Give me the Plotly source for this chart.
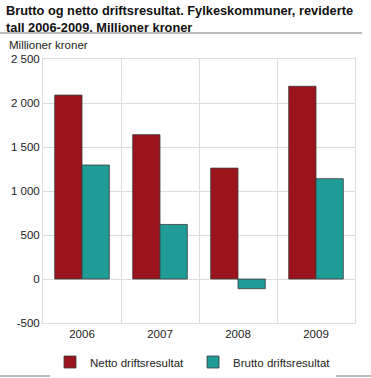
import plotly.graph_objects as go

years = ["2006", "2007", "2008", "2009"]
netto = [2090, 1640, 1260, 2190]
brutto = [1295, 620, -110, 1140]
ytick_vals = [-500, 0, 500, 1000, 1500, 2000, 2500]
ytick_text = ["-500", "0", "500", "1 000", "1 500", "2 000", "2 500"]

FONT = "Liberation Sans, Arial, sans-serif"

fig = go.Figure()
fig.add_trace(go.Bar(x=years, y=netto, name="Netto driftsresultat",
                     marker=dict(color="#9b141c", line=dict(color="#3a3a3a", width=0.8))))
fig.add_trace(go.Bar(x=years, y=brutto, name="Brutto driftsresultat",
                     marker=dict(color="#1f9b98", line=dict(color="#3a3a3a", width=0.8))))

W, H = 371, 378
ml, mr, mt, mb = 43, 16, 59, 55
pw, ph = W - ml - mr, H - mt - mb

def px_x(x):
    return (x - ml) / pw

def px_y(y):
    return (H - mb - y) / ph

fig.update_layout(
    width=W, height=H,
    margin=dict(l=ml, r=mr, t=mt, b=mb, autoexpand=False),
    paper_bgcolor="white", plot_bgcolor="white",
    font=dict(family=FONT, size=11, color="#222222"),
    barmode="group", bargap=0.3, bargroupgap=0,
    showlegend=True,
    legend=dict(orientation="h", xref="container", yref="container",
                x=50 / W, xanchor="left", y=1 - 362 / H, yanchor="middle",
                entrywidth=98, entrywidthmode="pixels",
                font=dict(size=11.5, color="#222222"), itemwidth=30, traceorder="normal"),
    xaxis=dict(type="category", tickson="boundaries", showgrid=True, gridcolor="#dddddd",
               gridwidth=1, ticks="outside", ticklen=10, tickcolor="rgba(0,0,0,0)",
               showline=True, linecolor="#dddddd", mirror=True,
               tickfont=dict(size=11.5), fixedrange=True),
    yaxis=dict(range=[-500, 2500], tickvals=ytick_vals, ticktext=ytick_text,
               showgrid=True, gridcolor="#dddddd", gridwidth=1, zeroline=False,
               showline=True, linecolor="#dddddd", mirror=True, ticks="",
               tickfont=dict(size=11.5), fixedrange=True),
    annotations=[
        dict(text="<b>Brutto og netto driftsresultat. Fylkeskommuner, reviderte<br>tall 2006-2009. Millioner kroner</b>",
             xref="paper", yref="paper", x=px_x(4), y=px_y(1), xanchor="left", yanchor="top",
             align="left", showarrow=False, font=dict(size=12.8, color="#111111", family=FONT)),
        dict(text="Millioner kroner", xref="paper", yref="paper", x=px_x(7), y=px_y(45),
             xanchor="left", yanchor="middle", showarrow=False,
             font=dict(size=11.5, color="#222222", family=FONT)),
    ],
    shapes=[
        dict(type="line", xref="paper", yref="paper", x0=px_x(0), x1=px_x(362),
             y0=px_y(33), y1=px_y(33), line=dict(color="#bbbbbb", width=2)),
        dict(type="line", xref="paper", yref="paper", x0=px_x(0), x1=px_x(371),
             y0=px_y(376), y1=px_y(376), line=dict(color="#bbbbbb", width=2)),
    ],
)

fig.write_html("out.html", config=dict(displayModeBar=False),
               post_script="document.body.style.margin='0';document.body.style.padding='0';")
